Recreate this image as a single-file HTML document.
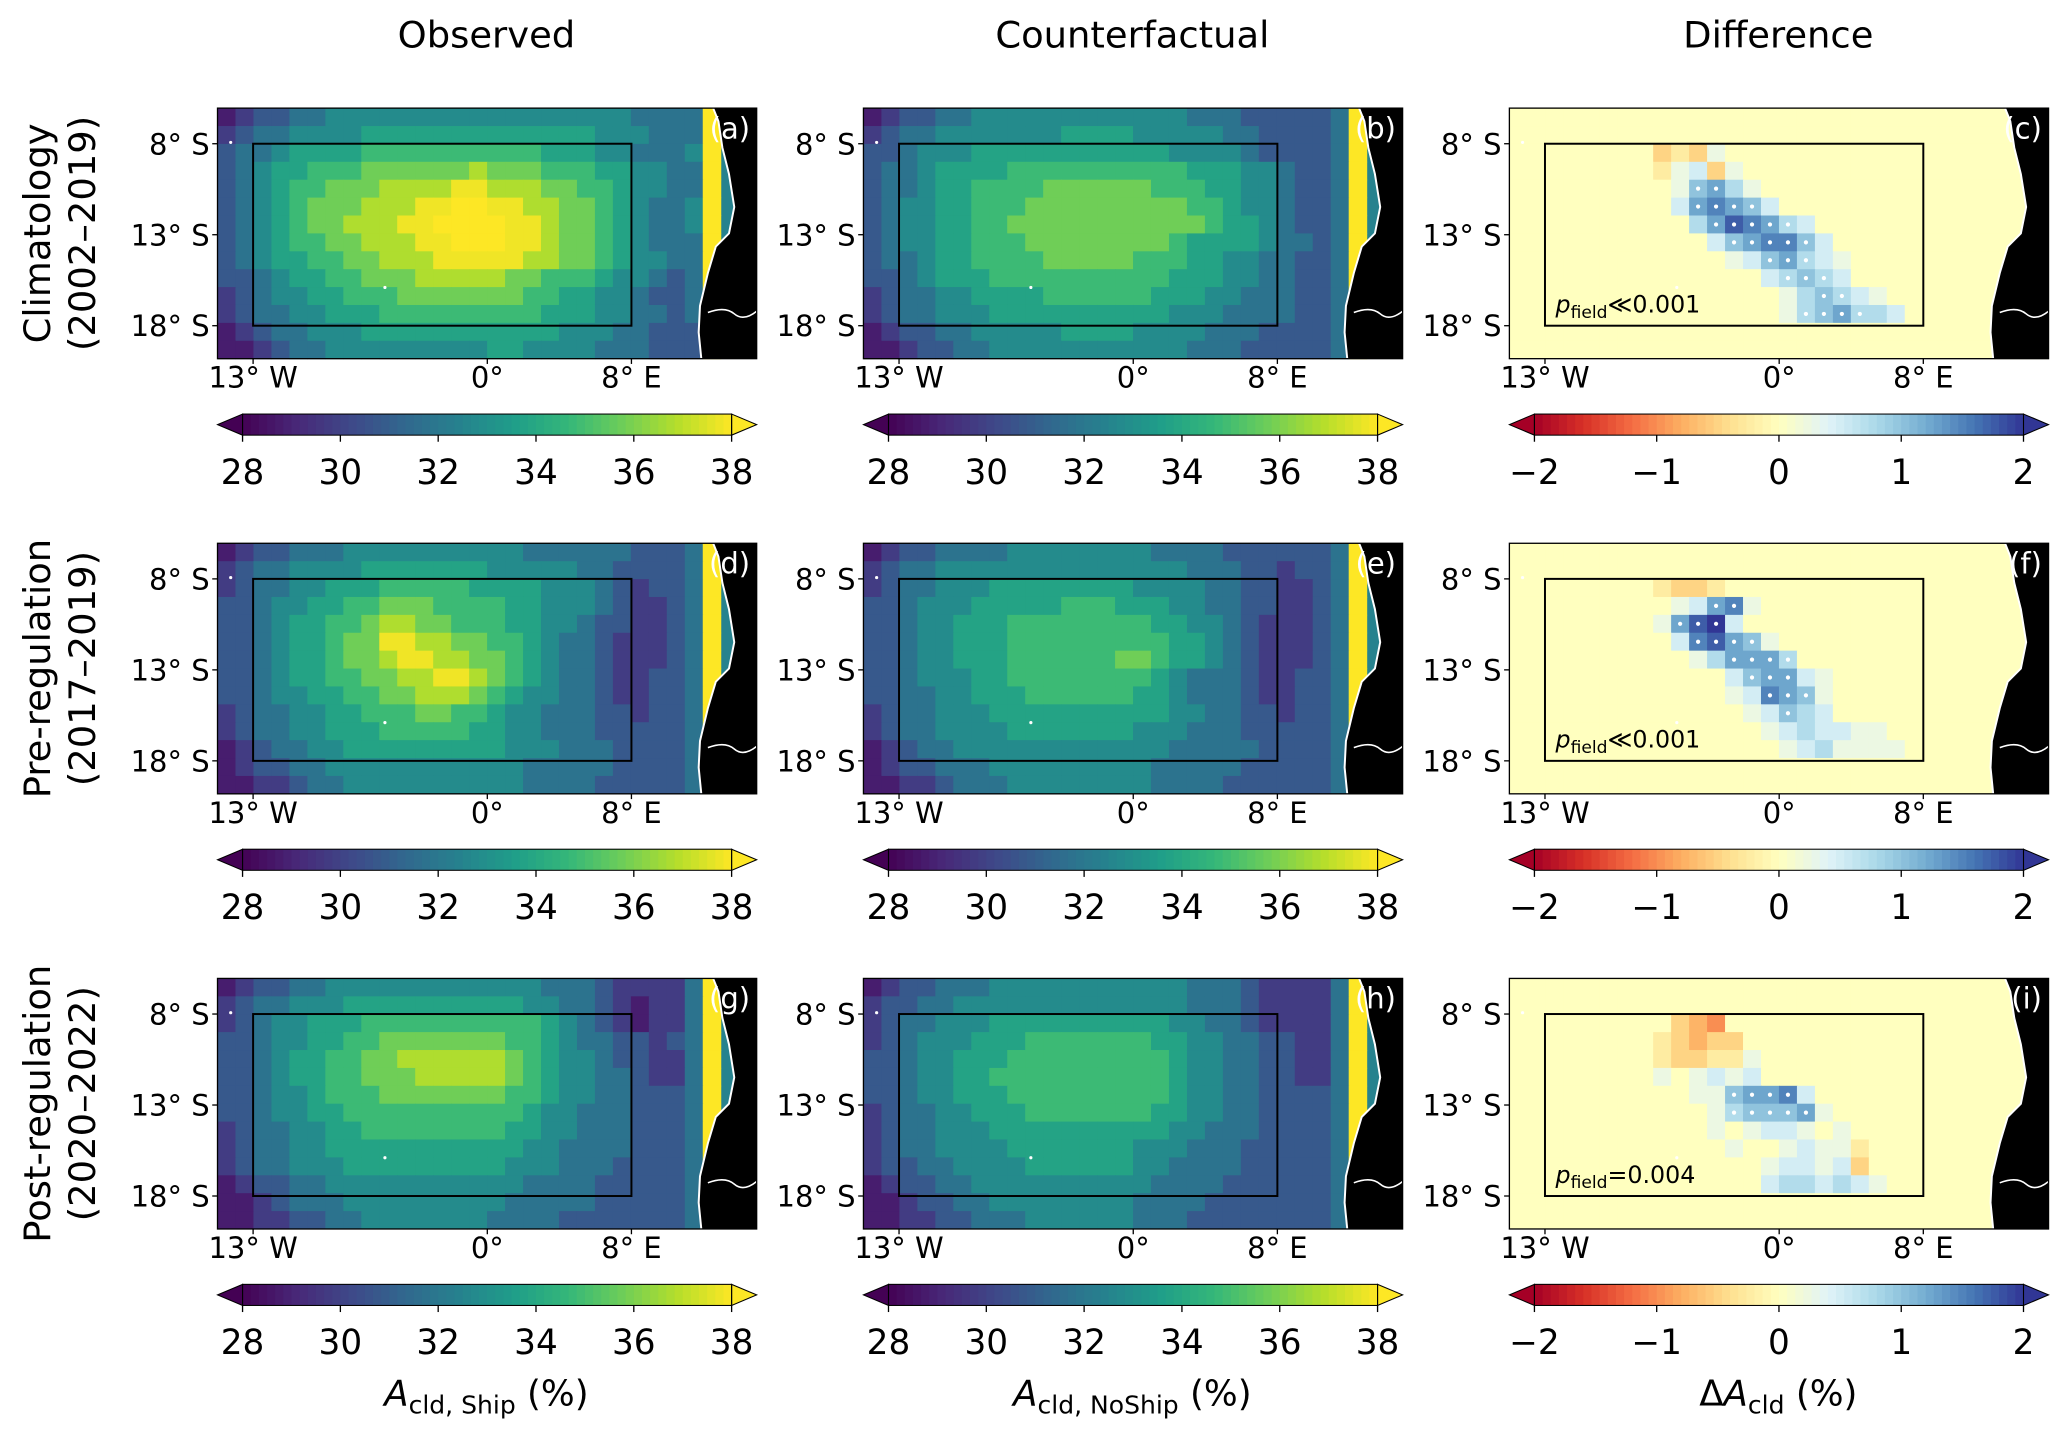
<!DOCTYPE html>
<html><head><meta charset="utf-8"><style>
html,body{margin:0;padding:0;background:#fff;}
svg{display:block;font-family:"DejaVu Sans","Liberation Sans",sans-serif;}
</style></head><body>
<svg id="fig" width="2067" height="1436" viewBox="0 0 1568 1089" preserveAspectRatio="none" xmlns="http://www.w3.org/2000/svg">
<g id="root"></g>
</svg>
<script>
// ---- data (levels: '0'..'a' => 29..39 %, clipped at 38; '#' land) ----
const gA=[
"012233444444444444444443333a##",
"123344445555555555555444333a##",
"233455556666666666555443334a##",
"234556667777778777666554433a##",
"234566777888899888776654433a##",
"2345677788899aa998877654334a##",
"234567788899aaaa99877654334a##",
"2345667788899aaa99877654333a##",
"234556677888999998877654433a##",
"223455667778888877666544323a##",
"123445566677777776655443223a##",
"123344555666666666555443323a##",
"012334445555555555544433222a##",
"001233444444444554444333222a##"];
const gB=[
"012233444444444444333222223a##",
"123344444445555444443322223a##",
"223444555555555554444322223a##",
"233455556666666666555443223a##",
"233455666677777766655443223a##",
"234455666777777777665443223a##",
"234455667777777777765543223a##",
"234455666777777776555543323a##",
"233455666677777666554433223a##",
"223455566666666665554433223a##",
"123344555566666655544333223a##",
"123344455555555554443333223a##",
"012233444445555444433322223a##",
"001223344444444444333222223a##"];
const gD=[
"012233344444444443333332223a##",
"123344445555555444443322223a##",
"123344555666665555444321223a##",
"223445566777666655444321123a##",
"223455667887766655443221123a##",
"223455677998877665433211123a##",
"223455677899887765433211123a##",
"223455667788998765433211223a##",
"223445566778887654433211223a##",
"123344556667766544333221223a##",
"123344555666665544333222223a##",
"012334455555555544433322223a##",
"012233444444444443333322223a##",
"001123344444444443333222223a##"];
const gE=[
"012233334444444433332222223a##",
"123344444444444444333221223a##",
"123344455555555444433221123a##",
"223444555556665554433221123a##",
"223445556666666655443211123a##",
"223445556666666665543211123a##",
"223445556666667765543211123a##",
"223444556666666654333211223a##",
"223344555666666554333211223a##",
"123344455555555554433221223a##",
"123344445555555444333222223a##",
"012334444444444443333322223a##",
"012233344444444433333222223a##",
"001123334444444433332222223a##"];
const gG=[
"012233444444444444333211113a##",
"123344455555555554433210113a##",
"123445556666666666543210113a##",
"223445566777777766543322123a##",
"223455667788888876544322113a##",
"223455667778888876544332113a##",
"223445666777777766544332223a##",
"223445566666666665443332223a##",
"123344556666666655443332223a##",
"123344555555555554433332223a##",
"123344455555555544433322223a##",
"012233444444444443333222223a##",
"001233344444444433333222223a##",
"001122334444444333322222223a##"];
const gH=[
"012233344444444444333211113a##",
"122334444444444444333211113a##",
"123344455555555554433211113a##",
"123444555666666655443322113a##",
"223445556666666665443322113a##",
"223445566666666665443322113a##",
"223445556666666665443322223a##",
"123344555666666655443322223a##",
"123344455555555554433322223a##",
"123344445555555444333222223a##",
"122334444555555443333222223a##",
"012233444444444433332222223a##",
"001223344444444333322222223a##",
"001122333444444333222222223a##"];
// diff: '.'=0, '1'..'8' => +0.25..+2, 'A'..'H' same with stippling, 'a'..'d' => -0.25..-1
const gC=[
"..............................",
"..............................",
"........bab1..................",
"........a12b1.................",
".........1DE31................",
".........2EFED2...............",
"..........3EGFEC2.............",
"...........2DEFFD2............",
"............12DEC21...........",
"..............2CDC2...........",
"...............13DC21.........",
"...............1CDEC32........",
"..............................",
".............................."];
const gF=[
"..............................",
"..............................",
"........abba..................",
".........12EF1................",
"........1EGH2.................",
".........2FGED1...............",
"..........13EEEC..............",
"............2DEE21............",
"............12FED1............",
".............12D32............",
"..............1232211.........",
"...............1231111........",
"..............................",
".............................."];
const gI=[
"..............................",
"..............................",
".........bcd..................",
"........abcbb.................",
"........abbaa1................",
"........1.1212................",
"..........11DEEF2.............",
"...........1CDDDE1............",
"...........1.1221.1...........",
"............1..1211a..........",
"..............12212b..........",
"..............2332321.........",
"..............................",
".............................."];
const seqTicks=[28,30,32,34,36,38];
const divTicks=[-2,-1,0,1,2];
const divTickLabels=["\u22122","\u22121","0","1","2"];
const latTicks=[8,13,18];
const lonTicks=[-13,0,8];
const lonTickLabels=["13\u00b0 W","0\u00b0","8\u00b0 E"];
const colTitles=["Observed","Counterfactual","Difference"];
const rowTitles=[["Climatology","(2002\u20132019)"],["Pre-regulation","(2017\u20132019)"],["Post-regulation","(2020\u20132022)"]];
const pTexts=["\u226a0.001","\u226a0.001","=0.004"];
const panelLetters=["a","b","c","d","e","f","g","h","i"];

const NS="http://www.w3.org/2000/svg";
const root=document.getElementById('root');
function el(tag,attrs,parent,text){const e=document.createElementNS(NS,tag);for(const k in attrs)e.setAttribute(k,attrs[k]);if(text!==undefined)e.textContent=text;(parent||root).appendChild(e);return e;}
const colX=[165,655,1145], rowY=[82,412,742], PW=409, PH=190, NC=30, NR=14;
const vir=["#440154","#482878","#3e4989","#31688e","#26828e","#1f9e89","#35b779","#6ece58","#b5de2b","#fde725"];
const rdylbu=["#a50026","#d73027","#f46d43","#fdae61","#fee090","#ffffbf","#e0f3f8","#abd9e9","#74add1","#4575b4","#313695"];
function interp(stops,t){t=Math.max(0,Math.min(1,t));const n=stops.length-1,i=Math.min(n-1,Math.floor(t*n)),f=t*n-i;const a=stops[i],b=stops[i+1];const p=(s,o)=>parseInt(s.substr(o,2),16);let r="#";for(const o of [1,3,5]){const v=Math.round(p(a,o)+(p(b,o)-p(a,o))*f);r+=v.toString(16).padStart(2,'0');}return r;}
const seqColor=v=>interp(vir,(v-28)/10);
const divColor=v=>interp(rdylbu,(v+2)/4);
function seqVal(ch){return 28.8+parseInt(ch,16);}
function divVal(ch){if(ch==='.')return 0;if(/[1-8]/.test(ch))return +ch*0.25;if(/[A-H]/.test(ch))return (ch.charCodeAt(0)-64)*0.25;if(/[a-d]/.test(ch))return -(ch.charCodeAt(0)-96)*0.25;return 0;}

colTitles.forEach((t,i)=>{const e=el('text',{x:colX[i]+204,y:36,'font-size':28,'text-anchor':'middle',fill:'#000'},root,t);

});
rowTitles.forEach((t,i)=>{const cy=rowY[i]+95;
const g=el('g',{transform:`translate(0,${cy}) rotate(-90)`});


el('text',{x:0,y:38,'font-size':28,'text-anchor':'middle'},g,t[0]);
el('text',{x:0,y:72,'font-size':28,'text-anchor':'middle'},g,t[1]);});

const grids=[[gA,gB,gC],[gD,gE,gF],[gG,gH,gI]];
const landPts=[[376,0],[380,10],[383,30],[388,50],[392,75],[388,95],[378,105],[372,125],[366,150],[365,170],[367,190]];
for(let r=0;r<3;r++)for(let c=0;c<3;c++){
  const x0=colX[c],y0=rowY[r],grid=grids[r][c],isDiff=c===2;
  const g=el('g',{transform:`translate(${x0},${y0})`});
  
  
  el('rect',{x:0,y:0,width:PW,height:PH,fill:isDiff?'#ffffbf':'#26828e'},g);
  const cw=PW/NC,ch=PH/NR;
  grid.forEach((row,ri)=>{for(let ci=0;ci<row.length&&ci<NC;ci++){const k=row[ci];if(k==='#')continue;
    const v=isDiff?divVal(k):seqVal(k);
    const cell=el('rect',{x:(ci*cw).toFixed(2),y:(ri*ch).toFixed(2),width:(cw+0.4).toFixed(2),height:(ch+0.4).toFixed(2),fill:isDiff?divColor(v):seqColor(v)},g);
    
    
    if(isDiff&&/[A-H]/.test(k)){const d=el('circle',{cx:(ci*cw+cw/2).toFixed(2),cy:(ri*ch+ch/2).toFixed(2),r:1.6,fill:'#fff'},g);
      
      }
  }});
  const pts=landPts.map(p=>p.join(',')).join(' ');
  const land=el('polygon',{points:pts+` ${PW},${PH} ${PW},0`,fill:'#000'},g);
  
  
  el('polyline',{points:pts,fill:'none',stroke:'#fff','stroke-width':1.5},g);
  el('path',{d:'M372 155 Q385 150 392 156 T409 154',fill:'none',stroke:'#fff','stroke-width':1.2},g);
  const box=el('rect',{x:27,y:27,width:287,height:138,fill:'none',stroke:'#000','stroke-width':1.5},g);
  
  
  el('rect',{x:0,y:0,width:PW,height:PH,fill:'none',stroke:'#000','stroke-width':1},g);
  el('circle',{cx:10,cy:26,r:1.2,fill:'#fff'},g);
  el('circle',{cx:127,cy:136,r:1.2,fill:'#fff'},g);
  const lab=el('text',{x:404,y:23,'font-size':22,'text-anchor':'end',fill:'#fff'},g,'('+panelLetters[r*3+c]+')');
  
  
  latTicks.forEach(lat=>{const y=27+(lat-8)*13.8;
    el('line',{x1:-4,y1:y,x2:0,y2:y,stroke:'#000'},g);
    const t=el('text',{x:-6,y:y+8,'font-size':22,'text-anchor':'end'},g,lat+'\u00b0 S');
    
    });
  lonTicks.forEach((lon,i)=>{const x=27+(lon+13)*(287/21);
    el('line',{x1:x,y1:PH,x2:x,y2:PH+4,stroke:'#000'},g);
    const t=el('text',{x:x,y:PH+22,'font-size':22,'text-anchor':'middle'},g,lonTickLabels[i]);
    
    });
  if(isDiff){const t=el('text',{x:35,y:155,'font-size':18},g);
    
    
    el('tspan',{'font-style':'italic'},t,'p');
    el('tspan',{'font-size':13,dy:4},t,'field');
    el('tspan',{dy:-4},t,pTexts[r]);}
  const cb=el('g',{transform:`translate(${x0},${y0+232})`});
  
  
  const bx0=19,bx1=390,bh=16,N=60;
  for(let i=0;i<N;i++){const t=(i+0.5)/N;el('rect',{x:(bx0+i*(bx1-bx0)/N).toFixed(2),y:0,width:((bx1-bx0)/N+0.5).toFixed(2),height:bh,fill:isDiff?divColor(-2+4*t):seqColor(28+10*t)},cb);}
  el('polygon',{points:`${bx0},0 0,${bh/2} ${bx0},${bh}`,fill:isDiff?'#a50026':'#440154',stroke:'#000','stroke-width':0.8},cb);
  el('polygon',{points:`${bx1},0 ${PW},${bh/2} ${bx1},${bh}`,fill:isDiff?'#313695':'#fde725',stroke:'#000','stroke-width':0.8},cb);
  el('rect',{x:bx0,y:0,width:bx1-bx0,height:bh,fill:'none',stroke:'#000','stroke-width':0.8},cb);
  const ticks=isDiff?divTicks:seqTicks, lo=isDiff?-2:28, hi=isDiff?2:38;
  ticks.forEach((v,i)=>{const x=bx0+(v-lo)/(hi-lo)*(bx1-bx0);
    el('line',{x1:x,y1:bh,x2:x,y2:bh+5,stroke:'#000'},cb);
    const t=el('text',{x:x,y:bh+37,'font-size':26,'text-anchor':'middle'},cb,isDiff?divTickLabels[i]:String(v));
    
    });
}
const cbl=[["A","cld, Ship"],["A","cld, NoShip"],["\u0394A","cld"]];
cbl.forEach((l,i)=>{const t=el('text',{x:colX[i]+204,y:1066,'font-size':27,'text-anchor':'middle'});
  
  
  if(i===2){el('tspan',{},t,'\u0394');}
  el('tspan',{'font-style':'italic'},t,'A');
  el('tspan',{'font-size':19,dy:6},t,l[1]);
  el('tspan',{dy:-6},t,' (%)');});
</script>
</body></html>
